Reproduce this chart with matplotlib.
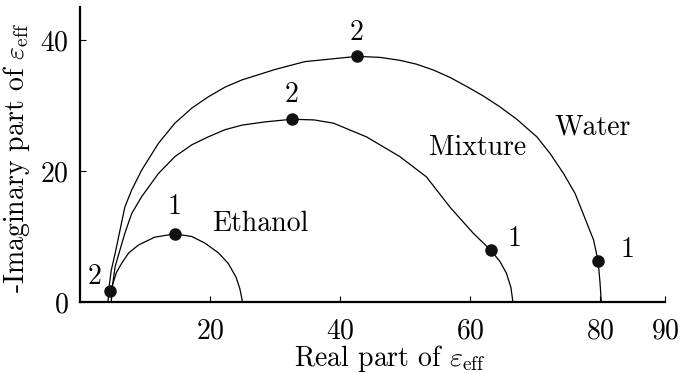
import matplotlib
matplotlib.use("Agg")
import matplotlib.pyplot as plt

plt.rcParams['font.family'] = ['cmr10', 'DejaVu Serif']
plt.rcParams['mathtext.fontset'] = 'cm'
plt.rcParams['axes.formatter.use_mathtext'] = True
plt.rcParams['axes.unicode_minus'] = False

# Cole-Cole curves (real, -imag)
water_x = [4.3, 4.5, 4.8, 5.4, 6.9, 7.95, 9.5, 12.05, 14.6, 17.2, 19.7, 22.3, 24.9, 30.0, 34.6,
           42.6, 46.15, 49.2, 51.8, 54.4, 56.9, 59.5, 62.05, 64.6, 67.2, 70.3, 72.3, 74.4,
           76.15, 77.4, 79.0, 79.7, 80.0, 80.2]
water_y = [0.0, 2.5, 4.8, 7.4, 14.5, 17.1, 20.15, 24.2, 27.3, 29.6, 31.3, 32.8, 33.9, 35.5, 36.7,
           37.5, 37.35, 36.9, 36.3, 35.4, 34.3, 32.9, 31.45, 29.8, 27.9, 25.2, 22.7, 19.6,
           16.6, 13.5, 9.5, 6.3, 3.0, 0.0]

mixture_x = [4.8, 5.0, 5.4, 6.9, 7.95, 9.5, 12.05, 14.6, 17.2, 19.7, 22.3, 24.9, 28.5, 32.6,
             36.0, 39.0, 44.1, 49.2, 53.3, 56.9, 60.5, 63.2, 64.6, 65.6, 66.3, 66.6]
mixture_y = [0.0, 2.5, 5.4, 10.5, 13.5, 16.1, 19.6, 22.2, 24.0, 25.2, 26.3, 27.0, 27.5, 27.9,
             27.8, 27.3, 25.2, 22.2, 19.1, 14.5, 10.5, 7.9, 6.2, 4.4, 2.2, 0.0]

ethanol_x = [4.6, 4.9, 5.6, 6.4, 7.5, 9.0, 11.5, 14.6, 17.2, 19.2, 21.3, 22.8, 24.0, 24.6, 24.9, 25.0]
ethanol_y = [1.7, 2.3, 4.5, 5.9, 7.5, 8.7, 9.9, 10.4, 10.0, 9.0, 7.5, 5.9, 3.8, 2.0, 0.5, 0.0]

# Marked frequencies
points_x = [14.6, 4.6, 32.6, 63.2, 42.6, 79.7]
points_y = [10.4, 1.7, 27.9, 7.9, 37.5, 6.3]
points_lab = ['1', '2', '2', '1', '2', '1']
lab_x = [14.6, 2.3, 32.5, 66.9, 42.5, 84.2]
lab_y = [14.5, 3.8, 31.6, 9.6, 41.1, 7.9]

names = ['Ethanol', 'Mixture', 'Water']
names_x = [27.8, 61.2, 78.9]
names_y = [12.0, 23.5, 26.6]

xticks = [20, 40, 60, 80, 90]
yticks = [0, 20, 40]

fig = plt.figure(figsize=(6.81, 3.73), dpi=100)
ax = fig.add_axes([80/681, 1-302/373, 585/681, (302-7.25)/373])

lw = 0.9
for xs, ys in ((water_x, water_y), (mixture_x, mixture_y), (ethanol_x, ethanol_y)):
    ax.plot(xs, ys, color='black', lw=lw, solid_joinstyle='round')
ax.plot(points_x, points_y, 'o', color='#111111', ms=8, zorder=5, clip_on=False)

fs = 20
for t, x, y in zip(points_lab, lab_x, lab_y):
    ax.text(x, y, t, ha='center', va='center', fontsize=fs)
for t, x, y in zip(names, names_x, names_y):
    ax.text(x, y, t, ha='center', va='center', fontsize=fs)

ax.set_xlim(0, 90)
ax.set_ylim(0, 45)
ax.set_xticks(xticks)
ax.set_yticks(yticks)
ax.spines['top'].set_visible(False)
ax.spines['right'].set_visible(False)
for s in ('left', 'bottom'):
    ax.spines[s].set_linewidth(1.6)
ax.tick_params(direction='in', length=4, width=0.8, labelsize=fs)
ax.tick_params(axis='x', pad=12)
ax.tick_params(axis='y', pad=8)

ax.set_xlabel(r'Real part of $\varepsilon_{\rm eff}$', fontsize=fs)
ax.set_ylabel(r'-Imaginary part of $\varepsilon_{\rm eff}$', fontsize=fs)
ax.xaxis.set_label_coords(0.53, -0.139)
ax.yaxis.set_label_coords(-0.082, 0.49)

fig.savefig('out.png', dpi=100)
